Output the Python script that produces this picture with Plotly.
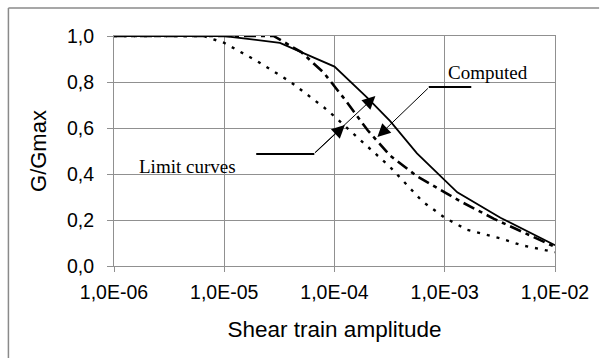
import plotly.graph_objects as go

# ---- data ----
strain_upper = [1e-6, 1e-5, 3.2e-5, 1e-4, 2.0e-4, 3.2e-4, 5.6e-4, 1e-3, 1.3e-3, 3.2e-3, 1e-2]
g_upper      = [1.0, 1.0, 0.97, 0.867, 0.73, 0.63, 0.49, 0.37, 0.32, 0.21, 0.09]

strain_comp = [1e-6, 2.8e-5, 5e-5, 8e-5, 1.26e-4, 2e-4, 3.2e-4, 5.6e-4, 1e-3, 1.4e-3, 2.8e-3, 1e-2]
g_comp      = [1.0, 1.0, 0.93, 0.84, 0.72, 0.59, 0.48, 0.39, 0.32, 0.28, 0.205, 0.083]

strain_lower = [1e-6, 6.5e-6, 1e-5, 2e-5, 4e-5, 8e-5, 1e-4, 1.6e-4, 3.2e-4, 6.3e-4, 1e-3, 1.6e-3, 3.2e-3, 5e-3, 1e-2]
g_lower      = [1.0, 1.0, 0.97, 0.89, 0.80, 0.69, 0.65, 0.56, 0.43, 0.28, 0.21, 0.157, 0.12, 0.09, 0.06]

x_tickvals = [1e-6, 1e-5, 1e-4, 1e-3, 1e-2]
x_ticktext = ["1,0E-06", "1,0E-05", "1,0E-04", "1,0E-03", "1,0E-02"]
y_tickvals = [0.0, 0.2, 0.4, 0.6, 0.8, 1.0]
y_ticktext = ["0,0", "0,2", "0,4", "0,6", "0,8", "1,0"]

# label leader segments (strain, G/Gmax)
limit_seg_x = [1.95e-5, 6.56e-5]
limit_seg_y = [0.487, 0.487]
comp_seg_x = [7.16e-4, 1.74e-3]
comp_seg_y = [0.778, 0.778]

GRID = "#909090"

fig = go.Figure()
fig.add_trace(go.Scatter(x=strain_upper, y=g_upper, mode="lines",
                         line=dict(color="black", width=1.8), showlegend=False))
fig.add_trace(go.Scatter(x=strain_comp, y=g_comp, mode="lines",
                         line=dict(color="black", width=2.6, dash="12px,5px,4px,5px"), showlegend=False))
fig.add_trace(go.Scatter(x=strain_lower, y=g_lower, mode="lines",
                         line=dict(color="black", width=2.4, dash="3px,7px"), showlegend=False))
fig.add_trace(go.Scatter(x=limit_seg_x, y=limit_seg_y, mode="lines",
                         line=dict(color="black", width=2), showlegend=False, hoverinfo="skip"))
fig.add_trace(go.Scatter(x=comp_seg_x, y=comp_seg_y, mode="lines",
                         line=dict(color="black", width=2), showlegend=False, hoverinfo="skip"))

serif = dict(family="Liberation Serif, Times New Roman, serif", size=19, color="black")

annotations = [
    dict(x=-5.794, y=0.432, xref="x", yref="y", text="Limit curves", showarrow=False,
         xanchor="left", yanchor="middle", font=serif),
    dict(x=-2.993, y=0.843, xref="x", yref="y", text="Computed", showarrow=False,
         xanchor="left", yanchor="middle", font=serif),
    dict(x=-3.906, y=0.613, xref="x", yref="y", text="", showarrow=True, ax=-31, ay=29,
         arrowhead=2, arrowsize=2.6, arrowwidth=1, arrowcolor="black", standoff=0),
    dict(x=-3.629, y=0.739, xref="x", yref="y", text="", showarrow=True, ax=-62, ay=58,
         arrowhead=2, arrowsize=2.6, arrowwidth=1, arrowcolor="black", standoff=0),
    dict(x=-3.611, y=0.561, xref="x", yref="y", text="", showarrow=True, ax=52, ay=-50,
         arrowhead=2, arrowsize=2.6, arrowwidth=1, arrowcolor="black", standoff=0),
]

shapes = [
    dict(type="line", xref="paper", yref="paper", x0=-0.2394, x1=1.1, y0=1.1217, y1=1.1217,
         line=dict(color="#8a8a8a", width=1.5)),
    dict(type="line", xref="paper", yref="paper", x0=-0.2394, x1=-0.2394, y0=-0.5, y1=1.1217,
         line=dict(color="#8a8a8a", width=1.5)),
]

sans = "Liberation Sans, Arial, sans-serif"
fig.update_layout(
    width=601, height=358,
    margin=dict(l=114, r=40, t=36, b=92),
    paper_bgcolor="white", plot_bgcolor="white",
    annotations=annotations, shapes=shapes,
    xaxis=dict(type="log", range=[-6, -2], tickvals=x_tickvals, ticktext=x_ticktext,
               showgrid=True, gridcolor=GRID, gridwidth=1,
               showline=True, linecolor=GRID, linewidth=1, mirror=True,
               ticks="outside", ticklen=5, tickcolor=GRID, ticklabelstandoff=4,
               tickfont=dict(family=sans, size=19.5, color="black"),
               title=dict(text="Shear train amplitude", font=dict(family=sans, size=22.5, color="black"),
                          standoff=18),
               zeroline=False),
    yaxis=dict(range=[0, 1], tickvals=y_tickvals, ticktext=y_ticktext,
               showgrid=True, gridcolor=GRID, gridwidth=1,
               showline=True, linecolor=GRID, linewidth=1, mirror=True,
               ticks="outside", ticklen=6, tickcolor=GRID, ticklabelstandoff=9,
               tickfont=dict(family=sans, size=19.5, color="black"),
               title=dict(text="G/Gmax", font=dict(family=sans, size=22, color="black"),
                          standoff=14),
               zeroline=False),
)

fig.write_html("out.html")
